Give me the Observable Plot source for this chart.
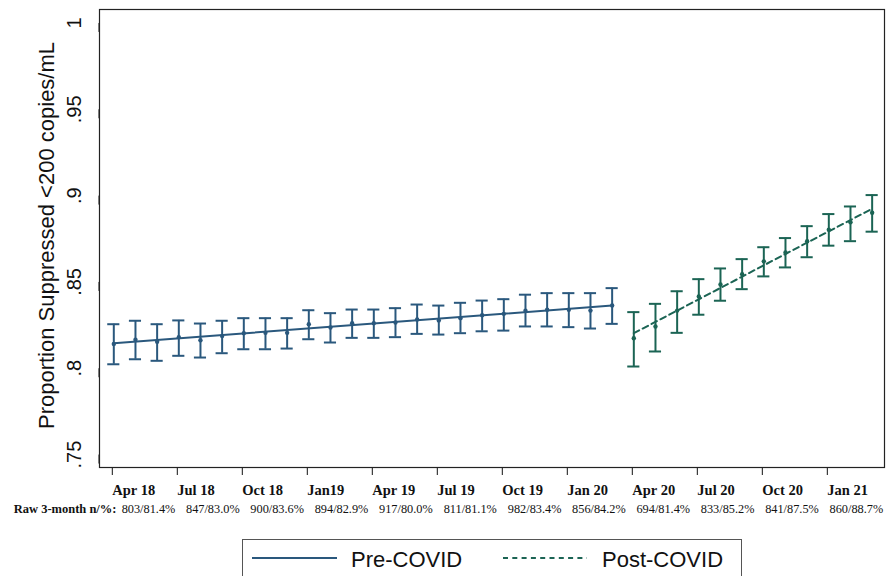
<!DOCTYPE html>
<html><head><meta charset="utf-8">
<script src="https://cdn.jsdelivr.net/npm/d3@7"></script>
<script src="https://cdn.jsdelivr.net/npm/@observablehq/plot@0.6"></script>
<style>
body{margin:0;background:#fff;}
#wrap{position:relative;width:887px;height:576px;overflow:hidden;background:#fff;}
#legend{position:absolute;left:242px;top:539px;width:500px;height:52px;border:1.3px solid #555;box-sizing:border-box;}
#legend svg{position:absolute;left:0;top:0;}
</style></head><body>
<div id="wrap"><div id="chart"></div>
<div id="legend">
<svg width="498" height="50">
<line x1="9" x2="94" y1="18" y2="18" stroke="#2a587d" stroke-width="2"/>
<text x="108" y="27" font-family="'Liberation Sans', Arial, sans-serif" font-size="22" fill="#111">Pre-COVID</text>
<line x1="260" x2="344" y1="18" y2="18" stroke="#1b6454" stroke-width="2" stroke-dasharray="5,4.3"/>
<text x="359" y="27" font-family="'Liberation Sans', Arial, sans-serif" font-size="22" fill="#111">Post-COVID</text>
</svg>
</div>
</div>
<script>
// ---- data ----
const preMonths = ["2018-04","2018-05","2018-06","2018-07","2018-08","2018-09","2018-10","2018-11","2018-12","2019-01","2019-02","2019-03","2019-04","2019-05","2019-06","2019-07","2019-08","2019-09","2019-10","2019-11","2019-12","2020-01","2020-02","2020-03"];
const preEst = [0.8141,0.8165,0.8153,0.8180,0.8162,0.8186,0.8203,0.8205,0.8205,0.8255,0.8236,0.8261,0.8261,0.8265,0.8282,0.8277,0.8290,0.8307,0.8315,0.8333,0.8339,0.8339,0.8334,0.8363];
const preLo  = [0.8023,0.8052,0.8043,0.8072,0.8062,0.8087,0.8110,0.8110,0.8114,0.8168,0.8149,0.8176,0.8176,0.8180,0.8199,0.8195,0.8203,0.8214,0.8218,0.8242,0.8242,0.8238,0.8230,0.8257];
const preHi  = [0.8255,0.8275,0.8255,0.8277,0.8259,0.8275,0.8290,0.8290,0.8290,0.8336,0.8319,0.8340,0.8340,0.8348,0.8369,0.8363,0.8379,0.8392,0.8400,0.8426,0.8435,0.8435,0.8435,0.8464];

const postMonths = ["2020-04","2020-05","2020-06","2020-07","2020-08","2020-09","2020-10","2020-11","2020-12","2021-01","2021-02","2021-03"];
const postEst = [0.8174,0.8242,0.8334,0.8416,0.8485,0.8545,0.8619,0.8671,0.8736,0.8802,0.8846,0.8901];
const postLo  = [0.8010,0.8097,0.8205,0.8310,0.8391,0.8458,0.8532,0.8584,0.8643,0.8710,0.8736,0.8791];
const postHi  = [0.8325,0.8373,0.8446,0.8516,0.8578,0.8632,0.8701,0.8754,0.8823,0.8893,0.8937,0.9003];

// fitted trend lines (end points)
const preFitMonths = ["2018-04","2020-03"];
const preFitValues = [0.8145, 0.8363];
const postFitMonths = ["2020-04","2021-03"];
const postFitValues = [0.8203, 0.8924];

const xTickMonths = ["2018-04","2018-07","2018-10","2019-01","2019-04","2019-07","2019-10","2020-01","2020-04","2020-07","2020-10","2021-01"];
const xTickLabels = ["Apr 18","Jul 18","Oct 18","Jan19","Apr 19","Jul 19","Oct 19","Jan 20","Apr 20","Jul 20","Oct 20","Jan 21"];
const rawLabel = "Raw 3-month n/%:";
const rawValues = ["803/81.4%","847/83.0%","900/83.6%","894/82.9%","917/80.0%","811/81.1%","982/83.4%","856/84.2%","694/81.4%","833/85.2%","841/87.5%","860/88.7%"];

const yTicks = [0.75,0.8,0.85,0.9,0.95,1];
const yTickLabels = [".75",".8",".85",".9",".95","1"];
const yTitle = "Proportion Suppressed <200 copies/mL";

// ---- build ----
const preColor = "#2a587d", postColor = "#1b6454";
const serif = "'Liberation Serif', 'Times New Roman', serif";
const mi = s => { const [y, m] = s.split("-").map(Number); return (y - 2018) * 12 + (m - 4); };
const pre = preMonths.map((m, i) => ({t: mi(m), est: preEst[i], lo: preLo[i], hi: preHi[i]}));
const post = postMonths.map((m, i) => ({t: mi(m), est: postEst[i], lo: postLo[i], hi: postHi[i]}));
const preFit = preFitMonths.map((m, i) => ({t: mi(m), v: preFitValues[i]}));
const postFit = postFitMonths.map((m, i) => ({t: mi(m), v: postFitValues[i]}));
const tickPos = xTickMonths.map(mi);
const cap = 0.28;

function errorMarks(data, color) {
  return [
    Plot.ruleX(data, {x: "t", y1: "lo", y2: "hi", stroke: color, strokeWidth: 2}),
    Plot.ruleY(data, {y: "hi", x1: d => d.t - cap, x2: d => d.t + cap, stroke: color, strokeWidth: 2}),
    Plot.ruleY(data, {y: "lo", x1: d => d.t - cap, x2: d => d.t + cap, stroke: color, strokeWidth: 2}),
    Plot.dot(data, {x: "t", y: "est", r: 2.2, fill: color, stroke: "none"})
  ];
}

const chart = Plot.plot({
  width: 887, height: 525,
  marginLeft: 99, marginRight: 3, marginTop: 9, marginBottom: 58,
  style: {background: "#fff", fontFamily: "'Liberation Sans', Arial, sans-serif", color: "#111"},
  x: {domain: [-0.66, 35.57]},
  y: {domain: [0.7425, 1.0078]},
  marks: [
    Plot.axisX({ticks: tickPos, tickFormat: d => xTickLabels[tickPos.indexOf(d)], tickSize: 8, tickPadding: 9,
      textAnchor: "start", dx: -1.5, fontSize: 14.5, fontWeight: "bold", fontFamily: serif, label: null}),
    Plot.axisY({ticks: yTicks, tickFormat: d => yTickLabels[yTicks.indexOf(d)], tickSize: 9, tickPadding: 16,
      rotate: -90, textAnchor: "middle", fontSize: 20, label: null}),
    Plot.text([yTitle], {text: d => d, frameAnchor: "left", rotate: -90, dx: -53, dy: -3, fontSize: 22, lineAnchor: "middle", textAnchor: "middle"}),
    Plot.text([rawLabel], {text: d => d, frameAnchor: "bottom-left", dx: 17, dy: 45, textAnchor: "end", lineAnchor: "bottom", fontWeight: "bold", fontSize: 12.5, fontFamily: serif}),
    Plot.text(rawValues, {text: d => d, x: (d, i) => tickPos[i] + 1.6 - 0.03 * i, frameAnchor: "bottom", dy: 45, lineAnchor: "bottom", fontSize: 12.3, fontFamily: serif}),
    ...errorMarks(pre, preColor),
    ...errorMarks(post, postColor),
    Plot.line(preFit, {x: "t", y: "v", stroke: preColor, strokeWidth: 2}),
    Plot.line(postFit, {x: "t", y: "v", stroke: postColor, strokeWidth: 2, strokeDasharray: "6,4"}),
    Plot.frame({stroke: "#222", strokeWidth: 1.2})
  ]
});
document.getElementById("chart").appendChild(chart);
</script>
</body></html>
